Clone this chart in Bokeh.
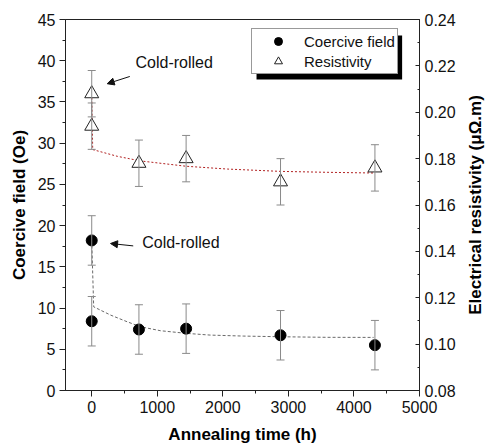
import math
from bokeh.plotting import figure
from bokeh.models import (Range1d, LinearAxis, Whisker, ColumnDataSource, Legend, LegendItem,
                          Label, Arrow, NormalHead, BoxAnnotation, SingleIntervalTicker,
                          TeeHead, NumeralTickFormatter)
from bokeh.embed import file_html
from bokeh.resources import INLINE

# ---- data ----
time_h = [0, 0, 720, 1440, 2880, 4320]
coercive_oe = [18.2, 8.4, 7.4, 7.5, 6.7, 5.5]
coercive_err = [3.0, 3.0, 3.0, 3.0, 3.0, 3.0]

res_time_h = [0, 0, 720, 1440, 2880, 4320]
resistivity = [0.208, 0.194, 0.178, 0.180, 0.170, 0.176]
res_err = [0.01, 0.01, 0.01, 0.01, 0.01, 0.01]

coercive_fit_t = [0, 30, 290, 540, 745, 1050, 1445, 1810, 2320, 2880, 3590, 4300]
coercive_fit_v = [18.2, 10.15, 9.14, 8.34, 7.73, 7.25, 6.93, 6.72, 6.6, 6.52, 6.45, 6.44]

res_fit_t = [0, 15, 390, 745, 1445, 2070, 2880, 3590, 4300]
res_fit_v = [0.208, 0.1839, 0.1810, 0.1790, 0.1767, 0.1755, 0.1745, 0.1741, 0.1738]

FONT = "Liberation Sans"
AX = "#222222"
FW, FH = 354, 371

p = figure(frame_width=FW, frame_height=FH,
           x_range=Range1d(-400, 5000), y_range=Range1d(0, 45),
           output_backend="svg", toolbar_location=None,
           min_border_left=65, min_border_right=70, min_border_top=19, min_border_bottom=56,
           background_fill_color="white", border_fill_color="white")
p.extra_y_ranges = {"res": Range1d(0.08, 0.24)}
p.xgrid.visible = False
p.ygrid.visible = False
p.outline_line_color = AX
p.outline_line_width = 1

# x axis
xa = p.xaxis[0]
xa.ticker = SingleIntervalTicker(interval=1000, num_minor_ticks=2)
xa.axis_label = "Annealing time (h)"

# left axis
ya = p.yaxis[0]
ya.ticker = SingleIntervalTicker(interval=5, num_minor_ticks=2)
ya.axis_label = "Coercive field (Oe)"

# right axis
ra = LinearAxis(y_range_name="res")
ra.ticker = SingleIntervalTicker(interval=0.02, num_minor_ticks=2)
ra.formatter = NumeralTickFormatter(format="0.00")
p.add_layout(ra, "right")

for ax in (xa, ya):
    ax.major_tick_out = 6
    ax.major_tick_in = 0
    ax.minor_tick_out = 3
    ax.minor_tick_in = 0
ra.major_tick_out = 0
ra.major_tick_in = 4
ra.minor_tick_out = 0
ra.minor_tick_in = 2

for ax in (xa, ya, ra):
    ax.axis_line_color = AX
    ax.major_tick_line_color = AX
    ax.minor_tick_line_color = AX
    ax.major_label_text_font = FONT
    ax.major_label_text_font_size = "16px"
    ax.major_label_text_color = "#111111"
    ax.axis_label_text_font = FONT
    ax.axis_label_text_font_style = "bold"
    ax.axis_label_text_font_size = "17px"
    ax.axis_label_text_color = "#000000"

xa.major_label_standoff = 4
xa.axis_label_standoff = 9
ya.major_label_standoff = 4
ya.axis_label_standoff = 6
ra.major_label_standoff = 5

# right-hand axis title, reading bottom-to-top, in its own side panel
p.add_layout(Label(x=17, y=FH / 2, x_units="screen", y_units="screen",
                   text="Electrical resistivity (\u03bc\u03a9.m)", angle=math.pi / 2,
                   text_align="center", text_baseline="middle",
                   text_font=FONT, text_font_style="bold", text_font_size="17px",
                   text_color="#000000"), "right")

# fit lines
p.line(coercive_fit_t, coercive_fit_v, line_color="#6a6a6a", line_dash="3 2", line_width=1)
p.line(res_fit_t, res_fit_v, y_range_name="res", line_color="#b22222", line_dash="2 2", line_width=1)

# error bars
csrc = ColumnDataSource(dict(t=time_h, v=coercive_oe,
                             lo=[v - e for v, e in zip(coercive_oe, coercive_err)],
                             hi=[v + e for v, e in zip(coercive_oe, coercive_err)]))
rsrc = ColumnDataSource(dict(t=res_time_h, v=resistivity,
                             lo=[v - e for v, e in zip(resistivity, res_err)],
                             hi=[v + e for v, e in zip(resistivity, res_err)]))

EB = "#8a8a8a"
w1 = Whisker(source=csrc, base="t", lower="lo", upper="hi", line_color=EB, line_width=1,
             upper_head=TeeHead(size=8, line_color=EB, line_width=1),
             lower_head=TeeHead(size=8, line_color=EB, line_width=1), level="glyph")
w2 = Whisker(source=rsrc, base="t", lower="lo", upper="hi", line_color=EB, line_width=1,
             y_range_name="res",
             upper_head=TeeHead(size=8, line_color=EB, line_width=1),
             lower_head=TeeHead(size=8, line_color=EB, line_width=1), level="glyph")
p.add_layout(w1)
p.add_layout(w2)

circ = p.scatter("t", "v", source=csrc, marker="circle", size=11,
                 fill_color="black", line_color="black")
tri = p.scatter("t", "v", source=rsrc, y_range_name="res", marker="triangle", size=14,
                fill_color="white", line_color="#222222", line_width=1)

# annotations
p.add_layout(Label(x=668, y=39.8, text="Cold-rolled", text_baseline="middle",
                   text_font=FONT, text_font_size="16px", text_color="#111111"))
p.add_layout(Label(x=770, y=17.9, text="Cold-rolled", text_baseline="middle",
                   text_font=FONT, text_font_size="16px", text_color="#111111"))
p.add_layout(Arrow(x_start=581, y_start=38.09, x_end=236, y_end=37.21, line_width=1,
                   line_color="#111111",
                   end=NormalHead(size=7, fill_color="#111111", line_color="#111111")))
p.add_layout(Arrow(x_start=633, y_start=17.54, x_end=287, y_end=17.83, line_width=1,
                   line_color="#111111",
                   end=NormalHead(size=7, fill_color="#111111", line_color="#111111")))

# legend shadow + legend
p.add_layout(BoxAnnotation(left=2514, right=4735, top=43.06, bottom=37.73,
                           fill_color="black", fill_alpha=1.0, line_color=None))
legend = Legend(items=[LegendItem(label="Coercive field", renderers=[circ]),
                       LegendItem(label="Resistivity", renderers=[tri])],
                location=(186, 316), padding=2, spacing=0, margin=0,
                label_height=20, glyph_height=20, glyph_width=48, label_standoff=2,
                label_text_font=FONT, label_text_font_size="15px", label_text_color="#111111",
                border_line_color="#333333", border_line_width=1,
                background_fill_color="white", background_fill_alpha=1.0)
p.add_layout(legend, "center")

open("out.html", "w").write(file_html(p, INLINE))
